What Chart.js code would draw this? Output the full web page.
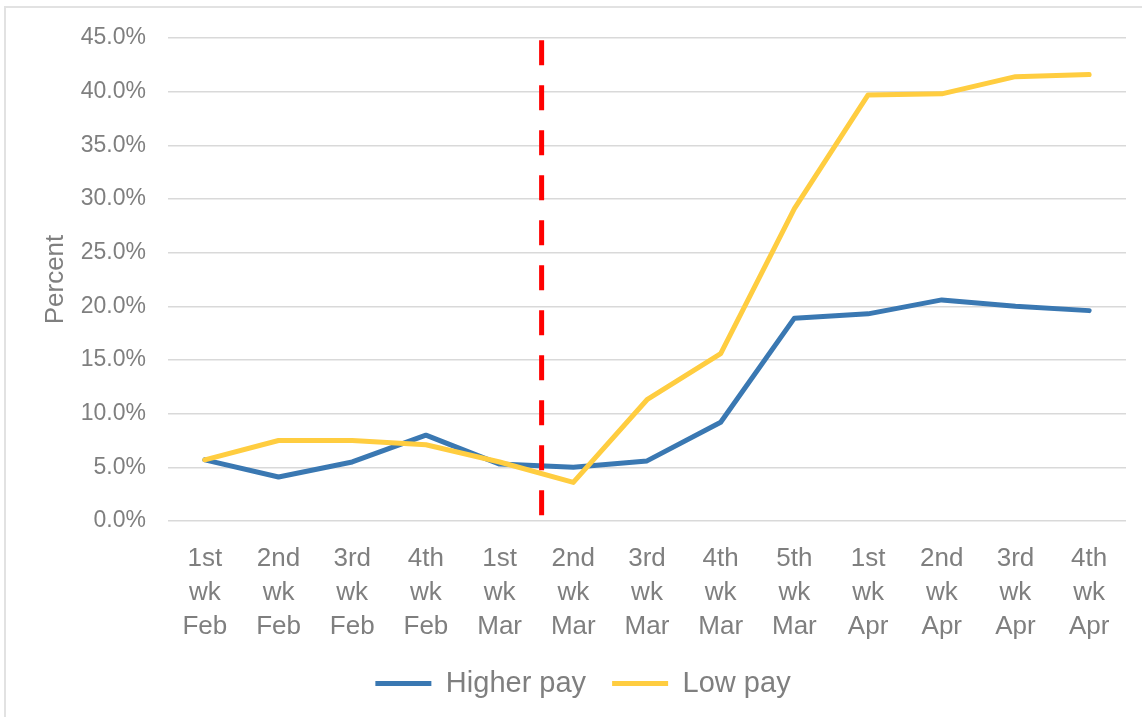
<!DOCTYPE html>
<html>
<head>
<meta charset="utf-8">
<script src="https://cdn.jsdelivr.net/npm/chart.js@4/dist/chart.umd.min.js"></script>
<style>
  html, body { margin: 0; padding: 0; background: #ffffff; }
  #wrap { position: relative; width: 1142px; height: 717px; overflow: hidden; }
  #frame { position: absolute; left: 4px; top: 6px; width: 1200px; height: 800px;
           border-left: 2px solid #e2e2e2; border-top: 2px solid #e2e2e2; }
  canvas { position: absolute; left: 0; top: 0; }
</style>
</head>
<body>
<div id="wrap">
  <div id="frame"></div>
  <canvas id="c" width="1142" height="717"></canvas>
</div>
<script>
// ---- Data ----
const categories = [
  ["1st","wk","Feb"], ["2nd","wk","Feb"], ["3rd","wk","Feb"], ["4th","wk","Feb"],
  ["1st","wk","Mar"], ["2nd","wk","Mar"], ["3rd","wk","Mar"], ["4th","wk","Mar"],
  ["5th","wk","Mar"], ["1st","wk","Apr"], ["2nd","wk","Apr"], ["3rd","wk","Apr"],
  ["4th","wk","Apr"]
];
const higherPay = [5.7, 4.1, 5.5, 8.0, 5.3, 5.0, 5.6, 9.2, 18.9, 19.3, 20.6, 20.0, 19.6];
const lowPay    = [5.7, 7.5, 7.5, 7.1, 5.5, 3.6, 11.3, 15.6, 29.1, 39.7, 39.8, 41.4, 41.6];
const seriesNames = ["Higher pay", "Low pay"];
const yTicks = { min: 0, max: 45, step: 5 };
const yAxisTitle = "Percent";
// vertical marker position (in category units) and its value range
const markerCategoryPos = 4.57;
const markerRange = [0.4, 44.8];

const GRAY = '#7f7f7f';
const FONT = '"Liberation Sans", Arial, sans-serif';

const markerPlugin = {
  id: 'marker',
  afterDatasetsDraw(chart) {
    const x = chart.scales.x.getPixelForValue(markerCategoryPos);
    const y0 = chart.scales.y.getPixelForValue(markerRange[1]);
    const y1 = chart.scales.y.getPixelForValue(markerRange[0]);
    const ctx = chart.ctx;
    ctx.save();
    ctx.strokeStyle = '#ff0000';
    ctx.lineWidth = 5;
    ctx.setLineDash([25, 20]);
    ctx.beginPath();
    ctx.moveTo(x, y0);
    ctx.lineTo(x, y1);
    ctx.stroke();
    ctx.restore();
  }
};

new Chart(document.getElementById('c'), {
  type: 'line',
  data: {
    labels: categories,
    datasets: [
      { label: seriesNames[0], data: higherPay, borderColor: '#3a78b2', backgroundColor: '#3a78b2',
        borderWidth: 5, pointRadius: 0, tension: 0, borderCapStyle: 'round', borderJoinStyle: 'round', order: 2 },
      { label: seriesNames[1], data: lowPay, borderColor: '#ffcd40', backgroundColor: '#ffcd40',
        borderWidth: 5, pointRadius: 0, tension: 0, borderCapStyle: 'round', borderJoinStyle: 'round', order: 1 }
    ]
  },
  options: {
    responsive: false,
    animation: false,
    devicePixelRatio: 1,
    layout: { padding: { top: 38, right: 16, left: 40, bottom: 9 } },
    plugins: {
      tooltip: { enabled: false },
      legend: {
        position: 'bottom',
        labels: {
          sort: (a, b) => a.datasetIndex - b.datasetIndex,
          usePointStyle: true,
          pointStyle: 'line',
          boxWidth: 56,
          pointStyleWidth: 56,
          padding: 26,
          color: GRAY,
          font: { family: FONT, size: 29 }
        }
      }
    },
    scales: {
      x: {
        offset: true,
        grid: { display: false, drawTicks: false },
        border: { display: false },
        afterFit: (s) => { s.height = 122; },
        ticks: {
          color: GRAY, padding: 21, maxRotation: 0, autoSkip: false,
          font: { family: FONT, size: 26, lineHeight: 1.31 }
        }
      },
      y: {
        min: yTicks.min, max: yTicks.max,
        afterFit: (s) => { s.width = 128; },
        grid: { color: '#d9d9d9', lineWidth: 1.5, drawTicks: false },
        border: { display: false },
        ticks: {
          stepSize: yTicks.step, color: GRAY, padding: 22,
          font: { family: FONT, size: 23 },
          callback: (v) => v.toFixed(1) + '%'
        },
        title: {
          display: true, text: yAxisTitle, color: GRAY,
          font: { family: FONT, size: 26 },
          padding: { top: 0, bottom: 0 }
        }
      }
    }
  },
  plugins: [markerPlugin]
});
</script>
</body>
</html>
